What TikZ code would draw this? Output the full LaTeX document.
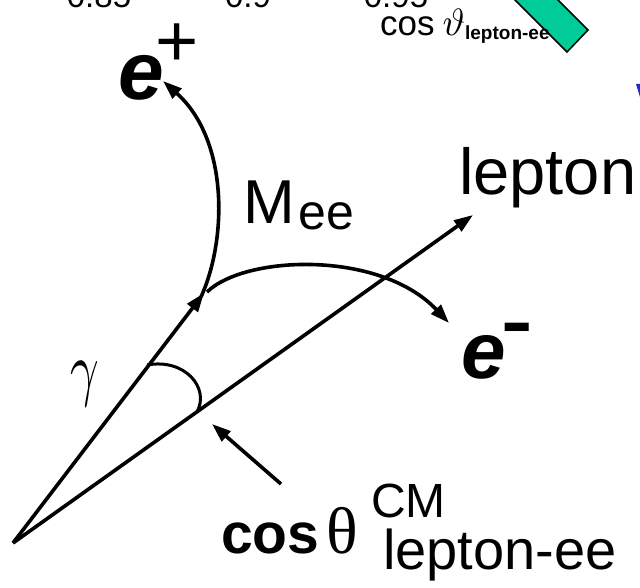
\documentclass[tikz,border=0pt]{standalone}
\usepackage{graphicx}
\usepackage{fontspec}
\setmainfont{Liberation Sans}
\newfontfamily\serifgr{Liberation Serif}
\usetikzlibrary{arrows.meta}
\definecolor{boxgreen}{RGB}{0,204,153}
\definecolor{vblue}{RGB}{40,40,210}
\tikzset{
  vec/.style={line width=3.6pt, -{Triangle[length=19pt,width=13pt]}},
  thinline/.style={line width=3pt},
  lbl/.style={inner sep=0pt, anchor=base west},
}
\newcommand{\fs}[1]{\fontsize{#1}{#1}\selectfont}
\begin{document}
\begin{tikzpicture}[x=1pt,y=-1pt]
\clip (0,0) rectangle (640,588);
% green box, top right
\filldraw[fill=boxgreen, draw=black, line width=1.5pt] (505,-10) -- (567,52) -- (588,30) -- (548,-10) -- cycle;
% blue fragment
\fill[vblue] (636,84) -- (640,84) -- (640,97) -- cycle;
% top tick labels
\node[inner sep=0pt, anchor=base] (t1) at (99,8) {\fs{33}0.85};
\node[inner sep=0pt, anchor=base] (t2) at (248,8) {\fs{33}0.9};
\node[inner sep=0pt, anchor=base] (t3) at (396,8) {\fs{33}0.95};
\node[lbl] (topcos) at (380,36) {\fs{35}cos\hspace{8pt}\scalebox{3.8}{\fs{10}$\vartheta$}\raisebox{-4pt}{\fs{19}\bfseries lepton-ee}};
% coordinates
\coordinate (O) at (13,543);
\coordinate (G) at (204,293);
\coordinate (L) at (473,215);
\coordinate (EpS) at (201,297);
\coordinate (Ep) at (163,81);
\coordinate (EmS) at (207,292);
\coordinate (Em) at (449,323);
\coordinate (A1) at (147,365);
\coordinate (A2) at (197,412);
\coordinate (PT) at (281,484);
\coordinate (PH) at (212,424);
% vectors
\draw[vec] (O) -- (G);
\draw[vec] (O) -- (L);
\draw[vec] (EpS) .. controls (227,240) and (229,140) .. (Ep);
\draw[vec] (EmS) .. controls (245,255) and (380,250) .. (Em);
% angle arc
\draw[thinline] (A1) .. controls (185,358) and (210,388) .. (A2);
% pointer arrow
\draw[vec] (PT) -- (PH);
% labels
\node[lbl] (lep) at (459,195) {\fs{65}lepton};
\node[lbl] (mee) at (243,224) {\fs{62}M\hspace{4pt}\raisebox{-6pt}{\fs{50}ee}};
\node[lbl] (ep) at (118,100) {\fs{82}\bfseries\itshape e\hspace{-8pt}\raisebox{33pt}{\fs{74}\mdseries\upshape +}};
\node[lbl] (em) at (461,378) {\fs{80}\bfseries\itshape e\hspace{-4pt}\raisebox{33pt}{\scalebox{1.35}[1]{\fs{70}\upshape -}}};
\node[inner sep=0pt] (gam) at (85,384) {\scalebox{5}[7.2]{\fs{10}$\gamma$}};
\node[lbl] (cosl) at (221,553) {\fs{57}\bfseries cos};
\node[lbl] (th) at (326,553) {\fs{66}\serifgr θ};
\node[lbl] (cm) at (371,517) {\fs{48}CM};
\node[lbl] (lee) at (383,569) {\fs{56}lepton-ee};
\end{tikzpicture}
\end{document}
